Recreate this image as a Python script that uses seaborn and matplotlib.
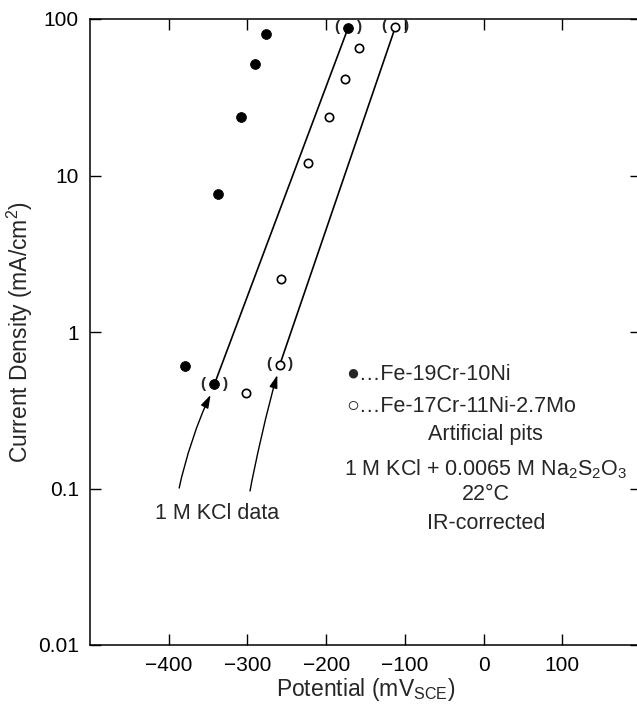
import matplotlib
matplotlib.use("Agg")
import matplotlib.pyplot as plt
import seaborn as sns
import pandas as pd
from matplotlib.path import Path
from matplotlib.patches import FancyArrowPatch

# Fe-19Cr-10Ni (filled) artificial pit data
fe19_potential = [-379, -337, -308, -291, -277]
fe19_current = [0.61, 7.6, 23.8, 51.8, 80.0]

# Fe-17Cr-11Ni-2.7Mo (open) artificial pit data
fe17_potential = [-302, -257, -223, -197, -176, -158]
fe17_current = [0.41, 2.19, 12.0, 23.8, 41.4, 65.3]

# 1 M KCl data (bracketed points) and the lines through them
kcl_fe19_potential = [-342, -172]
kcl_fe19_current = [0.463, 88.0]
kcl_fe17_potential = [-259, -112]
kcl_fe17_current = [0.615, 89.0]

# curved arrows from "1 M KCl data" label (tail, ctrl1, ctrl2, head)
arrow1 = [(-386.7, 0.1007), (-379.3, 0.152), (-362.8, 0.274), (-346.8, 0.396)]
arrow2 = [(-296.7, 0.0964), (-291.6, 0.135), (-273.8, 0.342), (-262.0, 0.531)]

xticks = [-400, -300, -200, -100, 0, 100]
yticks = [0.01, 0.1, 1, 10, 100]
ytick_labels = ["0.01", "0.1", "1", "10", "100"]

sns.set_theme(style="ticks")
plt.rcParams["font.family"] = ["Liberation Sans", "DejaVu Sans"]
plt.rcParams["mathtext.fontset"] = "custom"
plt.rcParams["mathtext.rm"] = "Liberation Sans"
plt.rcParams["mathtext.it"] = "Liberation Sans:italic"
plt.rcParams["mathtext.default"] = "rm"

fig = plt.figure(figsize=(6.37, 7.05), dpi=100)
ax = fig.add_axes([90 / 637, 60 / 705, 551 / 637, 626 / 705])

lines_df = pd.concat([
    pd.DataFrame({"E": kcl_fe19_potential, "i": kcl_fe19_current, "alloy": "Fe-19Cr-10Ni"}),
    pd.DataFrame({"E": kcl_fe17_potential, "i": kcl_fe17_current, "alloy": "Fe-17Cr-11Ni-2.7Mo"}),
])
sns.lineplot(data=lines_df, x="E", y="i", units="alloy", estimator=None,
             color="black", linewidth=1.2, ax=ax, legend=False)

filled = pd.DataFrame({"E": fe19_potential + kcl_fe19_potential,
                       "i": fe19_current + kcl_fe19_current})
opened = pd.DataFrame({"E": fe17_potential + kcl_fe17_potential,
                       "i": fe17_current + kcl_fe17_current})
sns.scatterplot(data=filled, x="E", y="i", color="black", edgecolor="black",
                s=50, marker="o", ax=ax, zorder=3, legend=False)
sns.scatterplot(data=opened, x="E", y="i", facecolor="white", edgecolor="black",
                linewidth=1.2, s=36, marker="o", ax=ax, zorder=3, legend=False)

ax.set_yscale("log")
ax.set_xlim(-500, 200)
ax.set_ylim(0.01, 100)
ax.set_xticks(xticks)
ax.set_yticks(yticks)
ax.set_yticklabels(ytick_labels)
ax.minorticks_off()
ax.tick_params(which="both", direction="in", top=True, right=True,
               length=8, width=1, labelsize=15, colors="black", pad=8)
for sp in ax.spines.values():
    sp.set_linewidth(1.1)
    sp.set_color("black")

ax.set_xlabel(r"Potential (mV$_{\mathrm{SCE}}$)", fontsize=16.5)
ax.set_ylabel(r"Current Density (mA/cm$^2$)", fontsize=16.5)
ax.xaxis.set_label_coords(0.5, -0.049)
ax.yaxis.set_label_coords(-0.099, 0.5)

# brackets around the 1 M KCl points
for xs, ys in [(kcl_fe19_potential, kcl_fe19_current), (kcl_fe17_potential, kcl_fe17_current)]:
    for x, y in zip(xs, ys):
        ax.annotate("(", (x, y), xytext=(-8, 0.5), textcoords="offset points",
                    ha="center", va="center", fontsize=11, fontweight="bold")
        ax.annotate(")", (x, y), xytext=(8, 0.5), textcoords="offset points",
                    ha="center", va="center", fontsize=11, fontweight="bold")

codes = [Path.MOVETO, Path.CURVE4, Path.CURVE4, Path.CURVE4]
for pts in (arrow1, arrow2):
    arr = FancyArrowPatch(path=Path(pts, codes), transform=ax.transData,
                          arrowstyle="-|>,head_length=0.7,head_width=0.22",
                          mutation_scale=11, color="black", linewidth=1.0)
    ax.add_patch(arr)

fs = 15.5
ax.text(-338, 0.0638, "1 M KCl data", ha="center", va="baseline", fontsize=fs)

# legend / annotation block
ax.text(-174, 0.493, "\u25cf\u2026Fe-19Cr-10Ni", ha="left", va="baseline", fontsize=fs)
ax.text(-174, 0.308, "\u25cb\u2026Fe-17Cr-11Ni-2.7Mo", ha="left", va="baseline", fontsize=fs)
ax.text(3, 0.204, "Artificial pits", ha="center", va="baseline", fontsize=fs)
ax.text(3, 0.122, r"1 M KCl + 0.0065 M Na$_2$S$_2$O$_3$", ha="center", va="baseline", fontsize=fs)
ax.text(3, 0.0845, "22\u00b0C", ha="center", va="baseline", fontsize=fs)
ax.text(3, 0.0551, "IR-corrected", ha="center", va="baseline", fontsize=fs)

fig.savefig("out.png", dpi=100)
